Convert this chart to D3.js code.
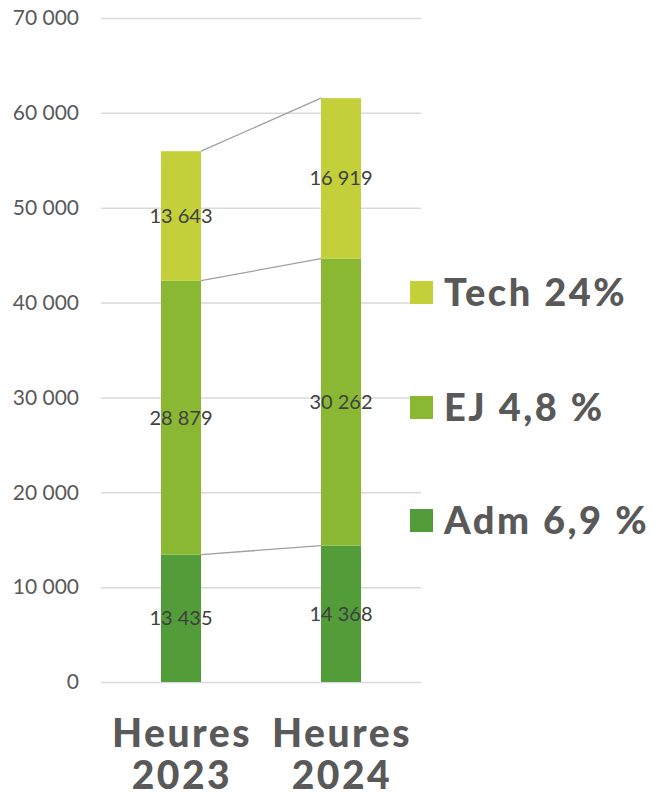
<!DOCTYPE html>
<meta charset="utf-8">
<head>
  <meta charset="utf-8">
  <title>Heures 2023 / 2024</title>
  <script src="https://d3js.org/d3.v7.min.js"></script>
</head>
<style>
body {margin:0; background:#fff;}
.tick text {font-family: Lato, sans-serif; font-size: 21px; fill: #595959;}
.val {font-family: Lato, sans-serif; font-size: 20px; fill: #404040;}
.cat {font-family: Lato, sans-serif; font-weight: 900; font-size: 39px; letter-spacing: 2.5px; fill: #595959;}
.leg {font-family: Lato, sans-serif; font-weight: 900; font-size: 38px; letter-spacing: 2.5px; fill: #595959;}
</style>
<body>
<script>

// data
var years = ["Heures 2023", "Heures 2024"];
var seriesNames = ["Adm", "EJ", "Tech"];
var legendLabels = ["Adm 6,9 %", "EJ 4,8 %", "Tech 24%"];
var adm = [13435, 14368];
var ej = [28879, 30262];
var tech = [13643, 16919];
var yTicks = [0, 10000, 20000, 30000, 40000, 50000, 60000, 70000];
var colors = ["#529d3a", "#8bb833", "#c3d03a"];

var width = 661, height = 797;
var margin = {top: 18, left: 101, right: 240, bottom: 115};
var innerW = width - margin.left - margin.right,
    innerH = height - margin.top - margin.bottom;

var svg = d3.select("body").append("svg")
    .attr("width", width)
    .attr("height", height);

var g = svg.append("g")
    .attr("transform", "translate(" + margin.left + "," + margin.top + ")");

var x = d3.scaleBand().domain(years).range([0, innerW]).paddingInner(0.75).paddingOuter(0.375);
var y = d3.scaleLinear().domain([0, 70000]).range([innerH, 0]);

var fmt = function(v) { return d3.format(",")(v).replace(/,/g, " "); };

// gridlines + y labels
var yAxis = g.append("g")
    .call(d3.axisLeft(y).tickValues(yTicks).tickSize(-innerW).tickFormat(fmt).tickPadding(22));
yAxis.select(".domain").remove();
yAxis.selectAll(".tick line").attr("stroke", "#d9d9d9").attr("stroke-width", 1.5);

// stack
var table = years.map(function(yr, i) {
  return {year: yr, Adm: adm[i], EJ: ej[i], Tech: tech[i]};
});
var stacked = d3.stack().keys(seriesNames)(table);

// series lines between bars
stacked.forEach(function(s) {
  g.append("line")
    .attr("x1", x(years[0]) + x.bandwidth())
    .attr("y1", y(s[0][1]))
    .attr("x2", x(years[1]))
    .attr("y2", y(s[1][1]))
    .attr("stroke", "#a0a0a0")
    .attr("stroke-width", 1.3);
});

var layer = g.selectAll(".layer")
  .data(stacked)
  .enter().append("g")
    .attr("fill", function(d, i) { return colors[i]; });

layer.selectAll("rect")
  .data(function(d) { return d; })
  .enter().append("rect")
    .attr("x", function(d) { return x(d.data.year); })
    .attr("y", function(d) { return y(d[1]); })
    .attr("width", x.bandwidth())
    .attr("height", function(d) { return y(d[0]) - y(d[1]); });

layer.selectAll(".val")
  .data(function(d) { return d; })
  .enter().append("text")
    .attr("class", "val")
    .attr("x", function(d) { return x(d.data.year) + x.bandwidth() / 2; })
    .attr("y", function(d) { return y((d[0] + d[1]) / 2); })
    .attr("dy", "0.35em")
    .attr("text-anchor", "middle")
    .text(function(d) { return fmt(d[1] - d[0]); });

// category labels (two lines)
years.forEach(function(yr) {
  var parts = yr.split(" ");
  var cx = x(yr) + x.bandwidth() / 2 + 1;
  g.append("text").attr("class", "cat").attr("text-anchor", "middle")
    .attr("x", cx).attr("y", innerH + 65).text(parts[0]);
  g.append("text").attr("class", "cat").attr("text-anchor", "middle")
    .attr("x", cx).attr("y", innerH + 107).text(parts[1]);
});

// legend
var legY = [520, 407, 292];
seriesNames.forEach(function(s, i) {
  svg.append("rect")
    .attr("x", 410).attr("y", legY[i] - 11)
    .attr("width", 23).attr("height", 23)
    .attr("fill", colors[i]);
  svg.append("text")
    .attr("class", "leg")
    .attr("x", 444).attr("y", legY[i])
    .attr("dy", "0.36em")
    .text(legendLabels[i]);
});

</script>
</body>
